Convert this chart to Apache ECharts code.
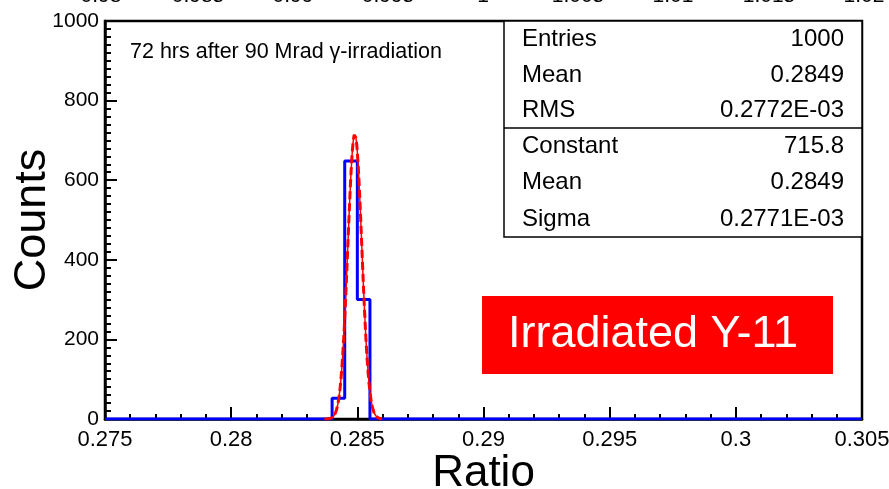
<!DOCTYPE html>
<html>
<head>
<meta charset="utf-8">
<title>Ratio distribution – Irradiated Y-11</title>
<script src="https://cdn.jsdelivr.net/npm/echarts@6/dist/echarts.min.js"></script>
<style>
  html, body { margin: 0; padding: 0; background: #fff; }
  #chart { width: 889px; height: 489px; }
</style>
</head>
<body>
<div id="chart"></div>
<script>
// Histogram of the ratio: lower edges of the filled bins and their counts
const binWidth = 0.0005;
const binLow = [0.2840, 0.2845, 0.2850];
const binCounts = [52, 648, 300];

// Gaussian fit parameters (as printed in the stats box)
const fitConstant = 715.8;
const fitMean = 0.2849;
const fitSigma = 0.2771e-3;
const fitRange = [0.2837, 0.2860];

// Stats box rows
const statsTop = [["Entries", "1000"], ["Mean", "0.2849"], ["RMS", "0.2772E-03"]];
const statsFit = [["Constant", "715.8"], ["Mean", "0.2849"], ["Sigma", "0.2771E-03"]];

// Axis ranges
const xRange = [0.275, 0.305];
const xStep = 0.005;
const yRange = [0, 1000];
const yStep = 200;

// Tick labels of the panel above (only their lower edge is visible)
const upperLabels = ["0.98", "0.985", "0.99", "0.995", "1", "1.005", "1.01", "1.015", "1.02"];
const upperLabelX = [101, 198, 293, 388, 483, 578, 673, 769, 864];

const FONT = "'Liberation Sans', Arial, Helvetica, sans-serif";

// Outline of the histogram as a step path along the x axis
function histogramPath() {
  const pts = [[xRange[0], 0]];
  let prev = 0;
  binLow.forEach((lo, i) => {
    pts.push([lo, prev], [lo, binCounts[i]]);
    prev = binCounts[i];
  });
  const hi = binLow[binLow.length - 1] + binWidth;
  pts.push([hi, prev], [hi, 0], [xRange[1], 0]);
  return pts;
}

// Fit function evaluated on its range
function gaussCurve() {
  const n = 240;
  const pts = [];
  for (let i = 0; i <= n; i++) {
    const x = fitRange[0] + (fitRange[1] - fitRange[0]) * i / n;
    const z = (x - fitMean) / fitSigma;
    pts.push([x, fitConstant * Math.exp(-0.5 * z * z)]);
  }
  return pts;
}

const fmt = v => String(Number(v.toFixed(4)));

const chart = echarts.init(document.getElementById('chart'), null, { renderer: 'canvas' });

// Stats box layout
const box = { x: 504, y: 21, w: 358, h: 216, split: 128 };
const statsGraphics = [
  {
    type: 'rect', z: 10,
    shape: { x: box.x, y: box.y, width: box.w, height: box.h },
    style: { fill: '#fff', stroke: '#000', lineWidth: 1.5 }
  },
  {
    type: 'line', z: 11,
    shape: { x1: box.x, y1: box.split, x2: box.x + box.w, y2: box.split },
    style: { stroke: '#000', lineWidth: 1.5 }
  }
];
const rowY = [39, 75, 110, 146, 182, 219];
statsTop.concat(statsFit).forEach((row, i) => {
  statsGraphics.push({
    type: 'text', z: 12, x: 522, y: rowY[i],
    style: { text: row[0], font: `24px ${FONT}`, fill: '#000', align: 'left', verticalAlign: 'middle' }
  });
  statsGraphics.push({
    type: 'text', z: 12, x: 844, y: rowY[i],
    style: { text: row[1], font: `24px ${FONT}`, fill: '#000', align: 'right', verticalAlign: 'middle' }
  });
});

const upperGraphics = upperLabels.map((t, i) => ({
  type: 'text', z: 5, x: upperLabelX[i], y: -4,
  style: { text: t, font: `21px ${FONT}`, fill: '#000', align: 'center', verticalAlign: 'middle' }
}));

chart.setOption({
  animation: false,
  backgroundColor: '#fff',
  grid: {
    left: 105, right: 27, top: 21, bottom: 70,
    containLabel: false, outerBoundsMode: 'none',
    show: true, borderColor: '#000', borderWidth: 2.5, backgroundColor: 'transparent'
  },
  xAxis: {
    type: 'value',
    min: xRange[0], max: xRange[1], interval: xStep,
    name: 'Ratio', nameLocation: 'middle', nameGap: 33, nameMoveOverlap: false,
    nameTextStyle: { fontFamily: FONT, fontSize: 44, color: '#000' },
    axisLine: { show: true, onZero: false, lineStyle: { color: '#000', width: 2.5 } },
    axisTick: { show: true, inside: true, length: 12, lineStyle: { color: '#000', width: 2 } },
    minorTick: { show: true, splitNumber: 5, length: 5, lineStyle: { color: '#000', width: 2 } },
    splitLine: { show: false },
    axisLabel: { margin: 10, fontFamily: FONT, fontSize: 22, color: '#000', formatter: fmt, showMinLabel: true, showMaxLabel: true, hideOverlap: false }
  },
  yAxis: {
    type: 'value',
    min: yRange[0], max: yRange[1], interval: yStep,
    name: 'Counts', nameLocation: 'middle', nameGap: 50, nameMoveOverlap: false,
    nameTextStyle: { fontFamily: FONT, fontSize: 45, color: '#000' },
    axisLine: { show: true, onZero: false, lineStyle: { color: '#000', width: 2.5 } },
    axisTick: { show: true, inside: true, length: 12, lineStyle: { color: '#000', width: 2 } },
    minorTick: { show: true, splitNumber: 10, length: 6, lineStyle: { color: '#000', width: 2 } },
    splitLine: { show: false },
    axisLabel: { margin: 6, fontFamily: FONT, fontSize: 21, color: '#000', formatter: v => String(v), hideOverlap: false }
  },
  graphic: [
    {
      type: 'text', z: 5, x: 130, y: 52,
      style: { text: '72 hrs after 90 Mrad γ-irradiation', font: `21.5px ${FONT}`, fill: '#000', align: 'left', verticalAlign: 'middle' }
    },
    {
      type: 'rect', z: 5,
      shape: { x: 482, y: 296, width: 351, height: 78 },
      style: { fill: '#ff0000' }
    },
    {
      type: 'text', z: 6, x: 653, y: 335,
      style: { text: 'Irradiated Y-11', font: `45px ${FONT}`, fill: '#fff', align: 'center', verticalAlign: 'middle' }
    }
  ].concat(statsGraphics, upperGraphics),
  series: [
    {
      name: 'Histogram', type: 'line', data: histogramPath(),
      showSymbol: false, symbol: 'none', z: 3,
      lineStyle: { color: '#0000ff', width: 3 }
    },
    {
      name: 'Fit', type: 'line', data: gaussCurve(),
      showSymbol: false, symbol: 'none', z: 4,
      lineStyle: { color: '#ff0000', width: 1.5 }
    },
    {
      name: 'Fit (dashed)', type: 'line', data: gaussCurve(),
      showSymbol: false, symbol: 'none', z: 4,
      lineStyle: { color: '#ff0000', width: 3, type: [8, 4] }
    }
  ]
});
</script>
</body>
</html>
